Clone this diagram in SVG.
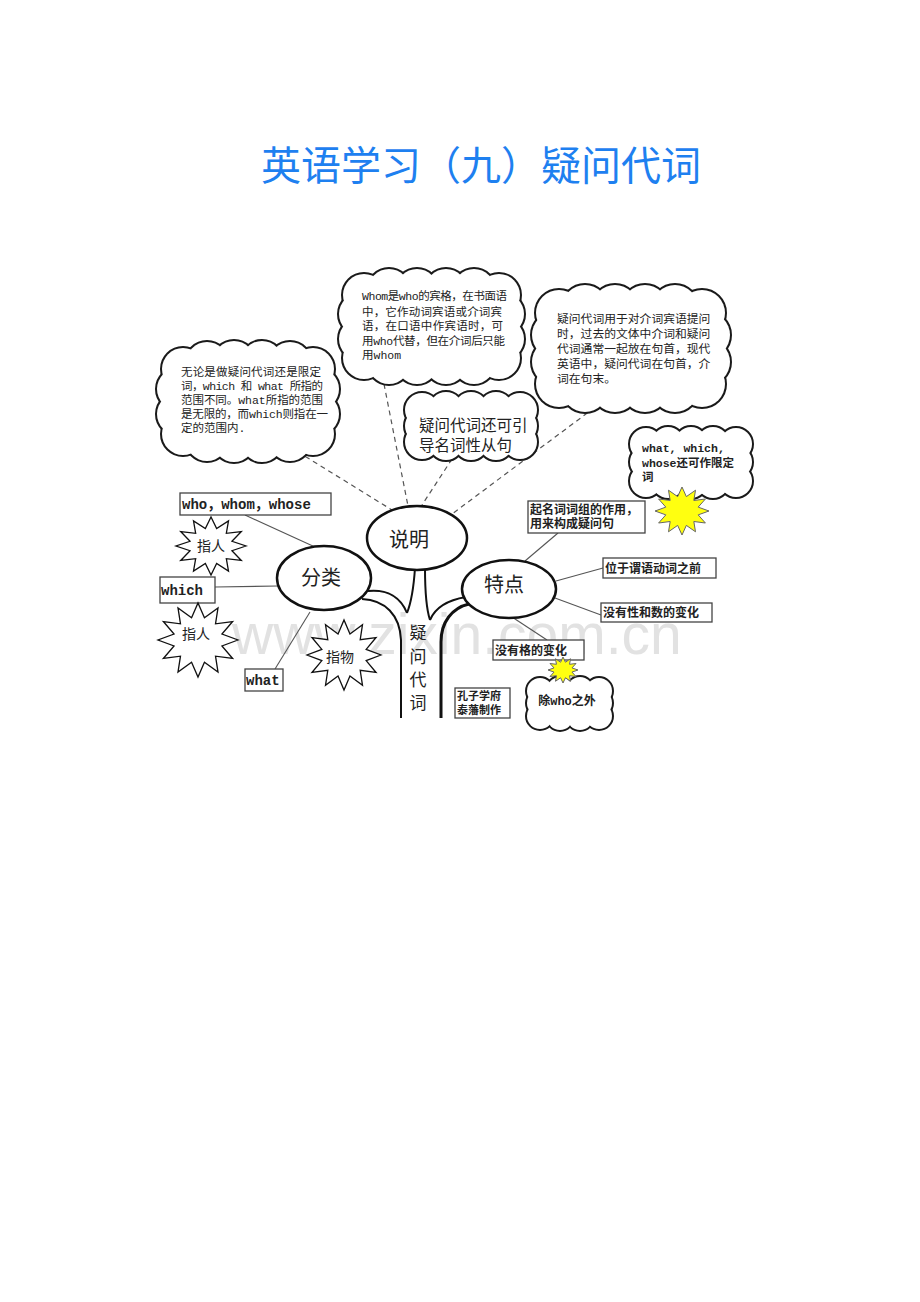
<svg xmlns="http://www.w3.org/2000/svg" xmlns:xlink="http://www.w3.org/1999/xlink" width="920" height="1302" viewBox="0 0 920 1302">
<style>
.cs{fill:#fff;stroke:#1a1a1a;stroke-width:4}
.cf{fill:#fff;stroke:none}
.ell{fill:#fff;stroke:#111;stroke-width:2.5}
.box{fill:#fff;stroke:#444;stroke-width:1.3}
.ln{stroke:#555;stroke-width:1.1;fill:none}
.dash{stroke:#555;stroke-width:1.2;fill:none;stroke-dasharray:5 4}
.trunk{stroke:#111;stroke-width:2;fill:none}
.star{fill:#fff;stroke:#111;stroke-width:1.3}
.ystar{fill:#ffff10;stroke:#666;stroke-width:1}
.t{font-family:"Liberation Mono","Noto Sans CJK SC",monospace;fill:#222}
.cj{font-family:"Noto Sans CJK SC","Liberation Sans",sans-serif;fill:#222}
.b{font-weight:bold}
</style>
<defs>
<polygon id="star12" vector-effect="non-scaling-stroke" points="1,0 0.599,0.161 0.866,0.5 0.438,0.438 0.5,0.866 0.161,0.599 0,1 -0.161,0.599 -0.5,0.866 -0.438,0.438 -0.866,0.5 -0.599,0.161 -1,0 -0.599,-0.161 -0.866,-0.5 -0.438,-0.438 -0.5,-0.866 -0.161,-0.599 0,-1 0.161,-0.599 0.5,-0.866 0.438,-0.438 0.866,-0.5 0.599,-0.161"/>
<g id="c1">
<circle cx="183" cy="369" r="21"/><circle cx="207" cy="363" r="21"/><circle cx="234" cy="362" r="21"/><circle cx="262" cy="362" r="21"/><circle cx="290" cy="363" r="21"/><circle cx="313" cy="369" r="21"/>
<circle cx="183" cy="434" r="21"/><circle cx="207" cy="440" r="21"/><circle cx="234" cy="441" r="21"/><circle cx="262" cy="441" r="21"/><circle cx="290" cy="440" r="21"/><circle cx="313" cy="434" r="21"/>
<circle cx="178" cy="389" r="21"/><circle cx="178" cy="414" r="21"/><circle cx="318" cy="389" r="21"/><circle cx="318" cy="414" r="21"/>
<rect x="179" y="364" width="138" height="75"/>
</g>
<g id="c2">
<circle cx="364" cy="295" r="21"/><circle cx="389" cy="290" r="21"/><circle cx="417" cy="290" r="21"/><circle cx="446" cy="290" r="21"/><circle cx="474" cy="290" r="21"/><circle cx="499" cy="295" r="21"/>
<circle cx="364" cy="358" r="21"/><circle cx="389" cy="363" r="21"/><circle cx="417" cy="363" r="21"/><circle cx="446" cy="363" r="21"/><circle cx="474" cy="363" r="21"/><circle cx="499" cy="358" r="21"/>
<circle cx="360" cy="314" r="21"/><circle cx="360" cy="339" r="21"/><circle cx="503" cy="314" r="21"/><circle cx="503" cy="339" r="21"/>
<rect x="360" y="290" width="143" height="73"/>
</g>
<g id="c3">
<circle cx="559" cy="313" r="23"/><circle cx="585" cy="308" r="23"/><circle cx="615" cy="308" r="23"/><circle cx="645" cy="308" r="23"/><circle cx="675" cy="308" r="23"/><circle cx="702" cy="313" r="23"/>
<circle cx="559" cy="384" r="23"/><circle cx="585" cy="389" r="23"/><circle cx="615" cy="389" r="23"/><circle cx="645" cy="389" r="23"/><circle cx="675" cy="389" r="23"/><circle cx="702" cy="384" r="23"/>
<circle cx="555" cy="335" r="23"/><circle cx="555" cy="362" r="23"/><circle cx="707" cy="335" r="23"/><circle cx="707" cy="362" r="23"/>
<rect x="555" y="308" width="151" height="81"/>
</g>
<g id="c4">
<circle cx="422" cy="410" r="17"/><circle cx="446" cy="409" r="17"/><circle cx="471" cy="409" r="17"/><circle cx="496" cy="409" r="17"/><circle cx="520" cy="410" r="17"/>
<circle cx="422" cy="442" r="17"/><circle cx="446" cy="443" r="17"/><circle cx="471" cy="443" r="17"/><circle cx="496" cy="443" r="17"/><circle cx="520" cy="442" r="17"/>
<circle cx="422" cy="426" r="17"/><circle cx="520" cy="426" r="17"/>
<rect x="422" y="409" width="98" height="34"/>
</g>
<g id="c5">
<circle cx="646" cy="444" r="16"/><circle cx="668" cy="443" r="16"/><circle cx="691" cy="443" r="16"/><circle cx="713" cy="443" r="16"/><circle cx="736" cy="444" r="16"/>
<circle cx="646" cy="481" r="16"/><circle cx="668" cy="482" r="16"/><circle cx="691" cy="482" r="16"/><circle cx="713" cy="482" r="16"/><circle cx="736" cy="481" r="16"/>
<circle cx="646" cy="462" r="16"/><circle cx="736" cy="462" r="16"/>
<rect x="646" y="443" width="90" height="39"/>
</g>
<g id="c6">
<circle cx="540" cy="691" r="13"/><circle cx="560" cy="690" r="13"/><circle cx="580" cy="690" r="13"/><circle cx="599" cy="691" r="13"/>
<circle cx="540" cy="716" r="13"/><circle cx="560" cy="717" r="13"/><circle cx="580" cy="717" r="13"/><circle cx="599" cy="716" r="13"/>
<circle cx="540" cy="703" r="13"/><circle cx="599" cy="703" r="13"/>
<rect x="540" y="690" width="59" height="27"/>
</g>
</defs>

<rect x="0" y="0" width="920" height="1302" fill="#fff"/>

<text id="title" x="481" y="180" text-anchor="middle" font-family="'Noto Sans CJK SC',sans-serif" font-size="40" fill="#1e80f0">英语学习（九）疑问代词</text>

<text id="watermark" x="232" y="654" font-family="'Liberation Sans',sans-serif" font-size="57" fill="#e2e2e2">www.zixin.com.cn</text>

<g id="connectors">
<line class="dash" x1="290" y1="447" x2="392" y2="510"/>
<line class="dash" x1="384" y1="384" x2="408" y2="506"/>
<line class="dash" x1="452" y1="459" x2="422" y2="505"/>
<line class="dash" x1="602" y1="402" x2="452" y2="514"/>
<line class="ln" x1="245" y1="515" x2="315" y2="547"/>
<line class="ln" x1="215" y1="587" x2="278" y2="586"/>
<line class="ln" x1="310" y1="612" x2="275" y2="669"/>
<line class="ln" x1="558" y1="533" x2="525" y2="561"/>
<line class="ln" x1="556" y1="581" x2="603" y2="568"/>
<line class="ln" x1="555" y1="598" x2="601" y2="615"/>
<line class="ln" x1="512" y1="617" x2="547" y2="640"/>
</g>

<g id="trunk">
<path class="trunk" d="M368 591 C388 589 401 598 407 613"/>
<path class="trunk" d="M415 568 Q413 598 407 613"/>
<path class="trunk" d="M362 599 C385 600 400 615 401 640 L401 718"/>
<path class="trunk" d="M425 568 Q425 605 430 620"/>
<path class="trunk" d="M466 597 C448 600 435 608 430 620"/>
<path class="trunk" style="stroke-width:3" d="M469 604 C452 608 441 622 441 642 L441 718"/>
<text class="cj" x="418" y="639" text-anchor="middle" font-size="17">疑</text>
<text class="cj" x="418" y="663" text-anchor="middle" font-size="17">问</text>
<text class="cj" x="418" y="686" text-anchor="middle" font-size="17">代</text>
<text class="cj" x="418" y="709" text-anchor="middle" font-size="17">词</text>
</g>

<g id="cloud-left">
<use xlink:href="#c1" class="cs"/><use xlink:href="#c1" class="cf"/>
<text class="t" font-size="11.5">
<tspan x="181" y="376" textLength="140">无论是做疑问代词还是限定</tspan>
<tspan x="181" y="390" textLength="142">词，which 和 what 所指的</tspan>
<tspan x="181" y="404" textLength="142">范围不同。what所指的范围</tspan>
<tspan x="181" y="418" textLength="147">是无限的，而which则指在一</tspan>
<tspan x="181" y="432">定的范围内.</tspan>
</text>
</g>

<g id="cloud-whom">
<use xlink:href="#c2" class="cs"/><use xlink:href="#c2" class="cf"/>
<text class="t" font-size="11.5">
<tspan x="362" y="300" textLength="145">Whom是who的宾格，在书面语</tspan>
<tspan x="362" y="316" textLength="140">中，它作动词宾语或介词宾</tspan>
<tspan x="362" y="330" textLength="141">语，在口语中作宾语时，可</tspan>
<tspan x="362" y="345" textLength="143">用who代替，但在介词后只能</tspan>
<tspan x="362" y="359">用whom</tspan>
</text>
</g>

<g id="cloud-right">
<use xlink:href="#c3" class="cs"/><use xlink:href="#c3" class="cf"/>
<text class="cj" font-size="11.8">
<tspan x="557" y="323">疑问代词用于对介词宾语提问</tspan>
<tspan x="557" y="338">时，过去的文体中介词和疑问</tspan>
<tspan x="557" y="353">代词通常一起放在句首，现代</tspan>
<tspan x="557" y="368">英语中，疑问代词在句首，介</tspan>
<tspan x="557" y="383">词在句末。</tspan>
</text>
</g>

<g id="cloud-clause">
<use xlink:href="#c4" class="cs"/><use xlink:href="#c4" class="cf"/>
<text class="cj" font-size="15.5">
<tspan x="419" y="431">疑问代词还可引</tspan>
<tspan x="419" y="451">导名词性从句</tspan>
</text>
</g>

<g id="cloud-whose">
<use xlink:href="#c5" class="cs"/><use xlink:href="#c5" class="cf"/>
<text class="t b" font-size="11.5">
<tspan x="642" y="452">what, which,</tspan>
<tspan x="642" y="467">whose还可作限定</tspan>
<tspan x="642" y="481">词</tspan>
</text>
</g>
<g id="star-yellow-big">
<use xlink:href="#star12" class="ystar" transform="translate(682,511) scale(27,24)"/>
</g>

<g id="node-shuoming">
<ellipse class="ell" cx="417" cy="538" rx="50" ry="32"/>
<text class="cj" x="409" y="547" text-anchor="middle" font-size="20">说明</text>
</g>
<g id="node-fenlei">
<ellipse class="ell" cx="324" cy="578" rx="47" ry="32"/>
<text class="cj" x="321" y="585" text-anchor="middle" font-size="20">分类</text>
</g>
<g id="node-tedian">
<ellipse class="ell" cx="509" cy="589" rx="47" ry="29"/>
<text class="cj" x="504" y="592" text-anchor="middle" font-size="20">特点</text>
</g>

<g id="box-who">
<rect class="box" x="180" y="493" width="151" height="22"/>
<text class="t b" x="182" y="509" font-size="14">who，whom，whose</text>
</g>
<g id="star-zhiren1">
<use xlink:href="#star12" class="star" transform="translate(211,546) scale(35,29)"/>
<text class="cj" x="211" y="551" text-anchor="middle" font-size="14">指人</text>
</g>
<g id="box-which">
<rect class="box" x="160" y="577" width="55" height="26"/>
<text class="t b" x="161" y="595" font-size="14">which</text>
</g>
<g id="star-zhiren2">
<use xlink:href="#star12" class="star" transform="translate(198,640) scale(40,37)"/>
<text class="cj" x="196" y="639" text-anchor="middle" font-size="14">指人</text>
</g>
<g id="box-what">
<rect class="box" x="245" y="669" width="38" height="22"/>
<text class="t b" x="246" y="685" font-size="14">what</text>
</g>
<g id="star-zhiwu">
<use xlink:href="#star12" class="star" transform="translate(344,655) scale(37,35)"/>
<text class="cj" x="340" y="662" text-anchor="middle" font-size="14">指物</text>
</g>

<g id="box-qiming">
<rect class="box" x="528" y="501" width="117" height="32"/>
<text class="cj b" font-size="12"><tspan x="530" y="514">起名词词组的作用，</tspan><tspan x="530" y="528">用来构成疑问句</tspan></text>
</g>
<g id="box-weiyu">
<rect class="box" x="603" y="558" width="113" height="20"/>
<text class="cj b" x="605" y="573" font-size="12">位于谓语动词之前</text>
</g>
<g id="box-xingshu">
<rect class="box" x="601" y="603" width="111" height="19"/>
<text class="cj b" x="603" y="617" font-size="12">没有性和数的变化</text>
</g>
<g id="box-ge">
<rect class="box" x="493" y="640" width="91" height="20"/>
<text class="cj b" x="495" y="655" font-size="12">没有格的变化</text>
</g>
<g id="cloud-who">
<use xlink:href="#c6" class="cs"/><use xlink:href="#c6" class="cf"/>
<text class="t b" x="567" y="705" text-anchor="middle" font-size="12">除who之外</text>
</g>
<g id="star-yellow-small">
<use xlink:href="#star12" class="ystar" transform="translate(563,670) scale(15,13)"/>
</g>
<g id="box-kongzi">
<rect class="box" x="455" y="688" width="55" height="30"/>
<text class="cj b" font-size="11"><tspan x="457" y="700">孔子学府</tspan><tspan x="457" y="714">泰藩制作</tspan></text>
</g>
</svg>
